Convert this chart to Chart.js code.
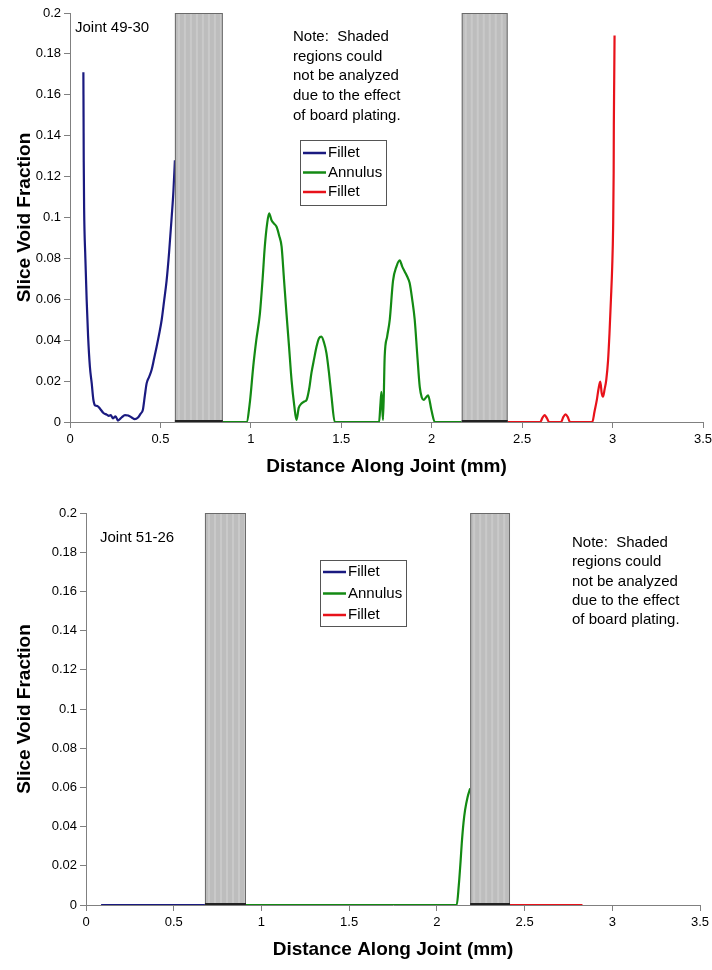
<!DOCTYPE html>
<html>
<head>
<meta charset="utf-8">
<script src="https://cdn.jsdelivr.net/npm/chart.js@4.4.0/dist/chart.umd.min.js"></script>
<style>
  body { margin: 0; background: #fff; }
  .box { position: absolute; left: 0; width: 712px; height: 485px; }
</style>
</head>
<body>
<div class="box" style="top:0"><canvas id="chartTop"></canvas></div>
<div class="box" style="top:485px"><canvas id="chartBottom"></canvas></div>
<script>
// axis ticks
const xTicks = [0, 0.5, 1, 1.5, 2, 2.5, 3, 3.5];
const yTicks = [0, 0.02, 0.04, 0.06, 0.08, 0.1, 0.12, 0.14, 0.16, 0.18, 0.2];

// Joint 49-30
const fillet1X = [0.074, 0.075, 0.076, 0.078, 0.085, 0.092, 0.100, 0.110, 0.120, 0.129, 0.140, 0.152, 0.166, 0.185, 0.203, 0.215, 0.225, 0.238, 0.252, 0.265, 0.285, 0.304, 0.322, 0.341, 0.358, 0.376, 0.390, 0.403, 0.414, 0.424, 0.437, 0.451, 0.465, 0.479, 0.493, 0.507, 0.520, 0.534, 0.548, 0.562, 0.572, 0.580];
const fillet1Y = [0.171, 0.149, 0.127, 0.105, 0.080, 0.060, 0.042, 0.027, 0.019, 0.011, 0.008, 0.0078, 0.0065, 0.0044, 0.0036, 0.003, 0.0034, 0.0018, 0.0028, 0.0007, 0.0022, 0.0034, 0.0032, 0.0022, 0.0014, 0.0022, 0.004, 0.006, 0.013, 0.019, 0.022, 0.0254, 0.031, 0.0368, 0.043, 0.050, 0.059, 0.069, 0.083, 0.100, 0.113, 0.128];
const annulus1X = [0.845, 0.976, 0.995, 1.013, 1.030, 1.050, 1.065, 1.077, 1.090, 1.101, 1.115, 1.128, 1.142, 1.157, 1.170, 1.183, 1.197, 1.211, 1.225, 1.240, 1.252, 1.265, 1.280, 1.295, 1.308, 1.322, 1.335, 1.350, 1.363, 1.377, 1.390, 1.404, 1.418, 1.432, 1.446, 1.464, 1.709, 1.716, 1.722, 1.727, 1.731, 1.740, 1.754, 1.768, 1.786, 1.805, 1.823, 1.837, 1.851, 1.865, 1.878, 1.892, 1.906, 1.920, 1.934, 1.945, 1.956, 1.968, 1.980, 1.998, 2.017, 2.166];
const annulus1Y = [0, 0, 0.010, 0.027, 0.040, 0.053, 0.070, 0.0857, 0.097, 0.102, 0.0985, 0.097, 0.0955, 0.091, 0.0857, 0.070, 0.053, 0.037, 0.0205, 0.008, 0.001, 0.007, 0.009, 0.010, 0.0108, 0.016, 0.024, 0.031, 0.0368, 0.041, 0.0417, 0.039, 0.0337, 0.024, 0.0124, 0, 0, 0.008, 0.0148, 0.006, 0.001, 0.032, 0.042, 0.05, 0.069, 0.076, 0.079, 0.076, 0.0735, 0.071, 0.068, 0.060, 0.05, 0.033, 0.017, 0.012, 0.0108, 0.012, 0.013, 0.006, 0, 0];
const fillet1bX = [2.418, 2.600, 2.612, 2.624, 2.636, 2.650, 2.715, 2.728, 2.740, 2.752, 2.765, 2.888, 2.900, 2.913, 2.922, 2.932, 2.940, 2.947, 2.956, 2.965, 2.975, 2.983, 2.991, 2.998, 3.003, 3.006, 3.007, 3.009, 3.011];
const fillet1bY = [0, 0, 0.002, 0.0034, 0.002, 0, 0, 0.0025, 0.0037, 0.0025, 0, 0, 0.005, 0.0108, 0.016, 0.0197, 0.014, 0.0124, 0.016, 0.0205, 0.030, 0.0434, 0.060, 0.076, 0.095, 0.1216, 0.145, 0.167, 0.189];
const shades1 = [[0.58, 0.845], [2.166, 2.42]];

// Joint 51-26
const fillet2X = [0.086, 0.678];
const fillet2Y = [0, 0];
const annulus2X = [0.89, 2.113, 2.125, 2.135, 2.142, 2.152, 2.161, 2.175, 2.19];
const annulus2Y = [0, 0, 0.010, 0.022, 0.0315, 0.042, 0.0485, 0.055, 0.0595];
const fillet2bX = [2.417, 2.83];
const fillet2bY = [0, 0];
const shades2 = [[0.678, 0.912], [2.19, 2.417]];

const noteLines = ['Note:  Shaded', 'regions could', 'not be analyzed', 'due to the effect', 'of board plating.'];
const seriesNames = ['Fillet', 'Annulus', 'Fillet'];
const seriesColors = ['#1a1a80', '#138a13', '#e8121a'];

function pts(xs, ys) {
    return xs.map((x, i) => ({ x: x, y: ys[i] }));
}

const FONT = '"Liberation Sans", Arial, sans-serif';

const overlay = {
    id: 'overlay',
    afterDatasetsDraw(chart, args, o) {
        const ctx = chart.ctx;
        const xs = chart.scales.x, ys = chart.scales.y;
        const yTop = ys.getPixelForValue(0.2), yBot = ys.getPixelForValue(0);
        ctx.save();
        // shaded regions
        o.shades.forEach(s => {
            const a = xs.getPixelForValue(s[0]), b = xs.getPixelForValue(s[1]);
            ctx.fillStyle = '#bdbdbd';
            ctx.fillRect(a, yTop, b - a, yBot - yTop);
            ctx.fillStyle = '#c9c9c9';
            for (let p = a + 3; p < b - 2; p += 6) ctx.fillRect(p, yTop, 2, yBot - yTop);
            ctx.strokeStyle = '#6a6a6a';
            ctx.lineWidth = 1;
            ctx.strokeRect(a + 0.5, yTop + 0.5, b - a - 1, yBot - yTop - 1);
            ctx.strokeStyle = '#222';
            ctx.lineWidth = 2;
            ctx.beginPath();
            ctx.moveTo(a, yBot - 1);
            ctx.lineTo(b, yBot - 1);
            ctx.stroke();
        });
        ctx.fillStyle = '#000';
        ctx.textBaseline = 'middle';
        ctx.textAlign = 'left';
        ctx.font = '15px ' + FONT;
        ctx.fillText(o.joint, o.jointX, o.jointY);
        noteLines.forEach((t, i) => ctx.fillText(t, o.noteX, o.noteY + i * o.noteGap));
        // legend
        const L = o.legend;
        ctx.fillStyle = '#fff';
        ctx.fillRect(L.x, L.y, L.w, L.h);
        ctx.strokeStyle = '#555';
        ctx.lineWidth = 1;
        ctx.strokeRect(L.x + 0.5, L.y + 0.5, L.w, L.h);
        chart.data.datasets.forEach((d, i) => {
            const cy = L.y + L.first + i * L.gap;
            ctx.strokeStyle = d.borderColor;
            ctx.lineWidth = 2.5;
            ctx.beginPath();
            ctx.moveTo(L.x + 3, cy);
            ctx.lineTo(L.x + 26, cy);
            ctx.stroke();
            ctx.fillStyle = '#000';
            ctx.fillText(d.label, L.x + 28, cy);
        });
        ctx.restore();
    }
};

function makeChart(id, series, cfg) {
    const ctx = document.getElementById(id).getContext('2d');
    return new Chart(ctx, {
        type: 'line',
        data: {
            datasets: series.map((s, i) => ({
                label: seriesNames[i],
                data: s,
                borderColor: seriesColors[i],
                backgroundColor: seriesColors[i],
                borderWidth: 2.2,
                pointRadius: 0,
                cubicInterpolationMode: 'monotone',
                fill: false
            }))
        },
        options: {
            responsive: true,
            maintainAspectRatio: false,
            animation: false,
            layout: { padding: { top: cfg.top, right: cfg.right, left: 0, bottom: 0 } },
            plugins: {
                legend: { display: false },
                tooltip: { enabled: false },
                overlay: cfg.overlay
            },
            scales: {
                x: {
                    type: 'linear',
                    min: 0,
                    max: 3.5,
                    afterBuildTicks: s => { s.ticks = xTicks.map(v => ({ value: v })); },
                    afterFit: s => { s.height = cfg.xh; s.paddingLeft = 0; s.paddingRight = 0; },
                    grid: { drawOnChartArea: false, drawTicks: true, tickLength: 6, color: '#808080' },
                    border: { color: '#808080', width: 1 },
                    ticks: { color: '#000', font: { family: FONT, size: 13 }, padding: 4, maxRotation: 0,
                        callback: v => String(v) },
                    title: { display: true, text: 'Distance Along Joint (mm)', color: '#000',
                        font: { family: FONT, size: 19, weight: 'bold' }, padding: { top: 0, bottom: cfg.xtp } }
                },
                y: {
                    min: 0,
                    max: 0.2,
                    afterBuildTicks: s => { s.ticks = yTicks.map(v => ({ value: v })); },
                    afterFit: s => { s.width = cfg.yw; s.paddingTop = 0; s.paddingBottom = 0; },
                    grid: { drawOnChartArea: false, drawTicks: true, tickLength: 6, color: '#808080' },
                    border: { color: '#808080', width: 1 },
                    ticks: { color: '#000', font: { family: FONT, size: 13 }, padding: 3,
                        callback: v => String(Number(v.toFixed(2))) },
                    title: { display: true, text: 'Slice Void Fraction', color: '#000',
                        font: { family: FONT, size: 19, weight: 'bold' }, padding: { top: cfg.ytp, bottom: 0 } }
                }
            }
        },
        plugins: [overlay]
    });
}

makeChart('chartTop', [pts(fillet1X, fillet1Y), pts(annulus1X, annulus1Y), pts(fillet1bX, fillet1bY)], {
    top: 13, right: 9, xh: 63, yw: 70, xtp: 7, ytp: 13,
    overlay: {
        shades: shades1,
        joint: 'Joint 49-30', jointX: 75, jointY: 28,
        noteX: 293, noteY: 37, noteGap: 19.6,
        legend: { x: 300, y: 140, w: 86, h: 65, first: 13, gap: 19.5 }
    }
});

makeChart('chartBottom', [pts(fillet2X, fillet2Y), pts(annulus2X, annulus2Y), pts(fillet2bX, fillet2bY)], {
    top: 28, right: 12, xh: 65, yw: 86, xtp: 9, ytp: 13,
    overlay: {
        shades: shades2,
        joint: 'Joint 51-26', jointX: 100, jointY: 53,
        noteX: 572, noteY: 58, noteGap: 19.2,
        legend: { x: 320, y: 75, w: 86, h: 66, first: 12, gap: 21.5 }
    }
});
</script>
</body>
</html>
